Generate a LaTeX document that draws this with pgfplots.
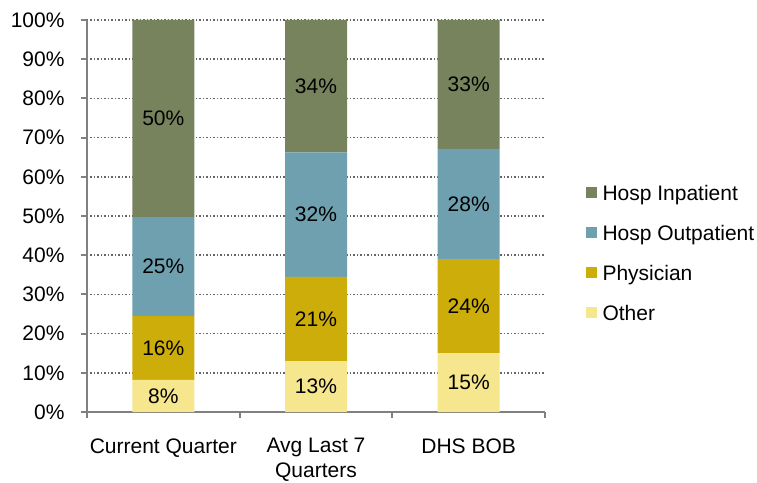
\documentclass[border=0pt]{standalone}
\usepackage{pgfplots}
\pgfplotsset{compat=1.18}
\usepackage{fontspec}
\setmainfont{Liberation Sans}
\definecolor{cInp}{HTML}{77835C}
\definecolor{cOut}{HTML}{6EA0B0}
\definecolor{cPhy}{HTML}{CCAD0A}
\definecolor{cOth}{HTML}{F6E68E}
\definecolor{axgray}{HTML}{808080}
\definecolor{gridgray}{HTML}{666666}
\begin{document}
\begin{tikzpicture}[font=\fontsize{21}{24.5}\selectfont]
\path[use as bounding box] (-87pt,-70pt) rectangle (670pt,412pt);
\begin{axis}[
  scale only axis, width=458pt, height=392pt,
  ybar stacked, bar width=62pt,
  xmin=-0.5, xmax=2.5, ymin=0, ymax=100,
  xtick={0,1,2},
  xticklabels={Current Quarter, {Avg Last 7\\Quarters}, DHS BOB},
  xticklabel style={align=center, yshift=-17pt},
  major x tick style={draw=none},
  minor xtick={-0.5,0.5,1.5,2.5},
  ytick={0,10,...,100},
  yticklabel={\pgfmathprintnumber{\tick}\%},
  yticklabel style={xshift=-13pt},
  /pgf/number format/assume math mode=true,
  axis x line*=bottom, axis y line*=left,
  axis line style={axgray, line width=2pt},
  tick style={axgray, line width=2pt},
  tick align=outside,
  major tick length=6pt, minor tick length=6pt,
  ymajorgrids,
  major grid style={gridgray, line width=1.5pt, dash pattern=on 1.5pt off 2pt},
  point meta=explicit symbolic,
  nodes near coords={\pgfplotspointmeta\%},
  every node near coord/.append style={anchor=center, text=black},
  reverse legend,
  legend image code/.code={\fill[#1] (0pt,-2.5pt) rectangle (11pt,8.5pt);},
  legend style={at={(1.088,0.40)}, anchor=west, draw=none, fill=none, inner sep=0pt,
    row sep=19pt, nodes={inner sep=1pt, text height=15pt, text depth=4pt, anchor=west},
    /tikz/every odd column/.append style={column sep=5pt}},
]
\addplot[fill=cOth, draw=none] table[x=x, y=y, meta=lab] {
x y lab
0 8.2 8
1 13.0 13
2 15.0 15
};
\addplot[fill=cPhy, draw=none] table[x=x, y=y, meta=lab] {
x y lab
0 16.3 16
1 21.5 21
2 24.0 24
};
\addplot[fill=cOut, draw=none] table[x=x, y=y, meta=lab] {
x y lab
0 25.2 25
1 31.7 32
2 28.1 28
};
\addplot[fill=cInp, draw=none] table[x=x, y=y, meta=lab] {
x y lab
0 50.3 50
1 33.8 34
2 32.9 33
};
\legend{Other, Physician, Hosp Outpatient, Hosp Inpatient}
\end{axis}
\end{tikzpicture}
\end{document}
